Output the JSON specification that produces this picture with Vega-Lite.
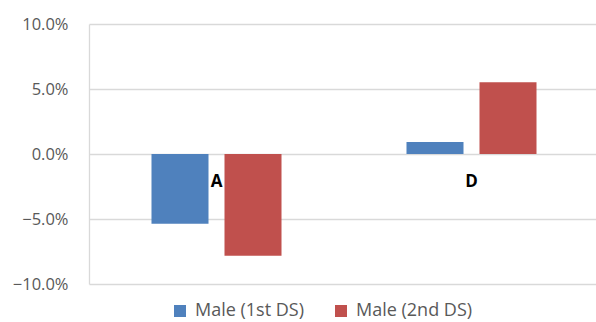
{
  "$schema": "https://vega.github.io/schema/vega-lite/v6.json",
  "width": 507,
  "height": 260,
  "autosize": "none",
  "padding": {"left": 89, "top": 24, "right": 0, "bottom": 38},
  "background": "white",
  "config": {"view": {"stroke": null}, "font": "Open Sans"},
  "data": {
    "values": [
      {"category": "A", "series": "Male (1st DS)", "value": -0.0537},
      {"category": "A", "series": "Male (2nd DS)", "value": -0.0783},
      {"category": "D", "series": "Male (1st DS)", "value": 0.0092},
      {"category": "D", "series": "Male (2nd DS)", "value": 0.0552}
    ]
  },
  "encoding": {
    "x": {
      "field": "category",
      "type": "nominal",
      "axis": null,
      "scale": {"range": [0, 510], "paddingInner": 0, "paddingOuter": 0}
    }
  },
  "layer": [
    {
      "mark": {"type": "bar"},
      "encoding": {
        "xOffset": {
          "field": "series",
          "type": "nominal",
          "scale": {"paddingInner": 0.219, "paddingOuter": 0.856}
        },
        "y": {
          "field": "value",
          "type": "quantitative",
          "scale": {"domain": [-0.1, 0.1], "nice": false, "zero": false},
          "axis": {
            "title": null,
            "values": [-0.1, -0.05, 0, 0.05, 0.1],
            "format": ".1%",
            "ticks": false,
            "labelPadding": 21,
            "labelFontSize": 16.5,
            "labelColor": "#595959",
            "domainColor": "#d9d9d9",
            "domainWidth": 1.3,
            "gridColor": "#d9d9d9",
            "gridWidth": 1.3
          }
        },
        "color": {
          "field": "series",
          "type": "nominal",
          "scale": {
            "domain": ["Male (1st DS)", "Male (2nd DS)"],
            "range": ["#4f81bd", "#c0504d"]
          },
          "legend": {
            "title": null,
            "orient": "none",
            "direction": "horizontal",
            "legendX": 82,
            "legendY": 278,
            "symbolType": "square",
            "symbolSize": 144,
            "symbolStrokeWidth": 0,
            "labelFontSize": 18,
            "labelColor": "#595959",
            "labelOffset": 6,
            "columnPadding": 27
          }
        }
      }
    },
    {
      "transform": [{"filter": "datum.series === 'Male (1st DS)'"}],
      "mark": {"type": "text", "fontWeight": "bold", "fontSize": 17, "dy": 28, "color": "black", "baseline": "middle"},
      "encoding": {
        "y": {"datum": 0},
        "text": {"field": "category"}
      }
    }
  ]
}
